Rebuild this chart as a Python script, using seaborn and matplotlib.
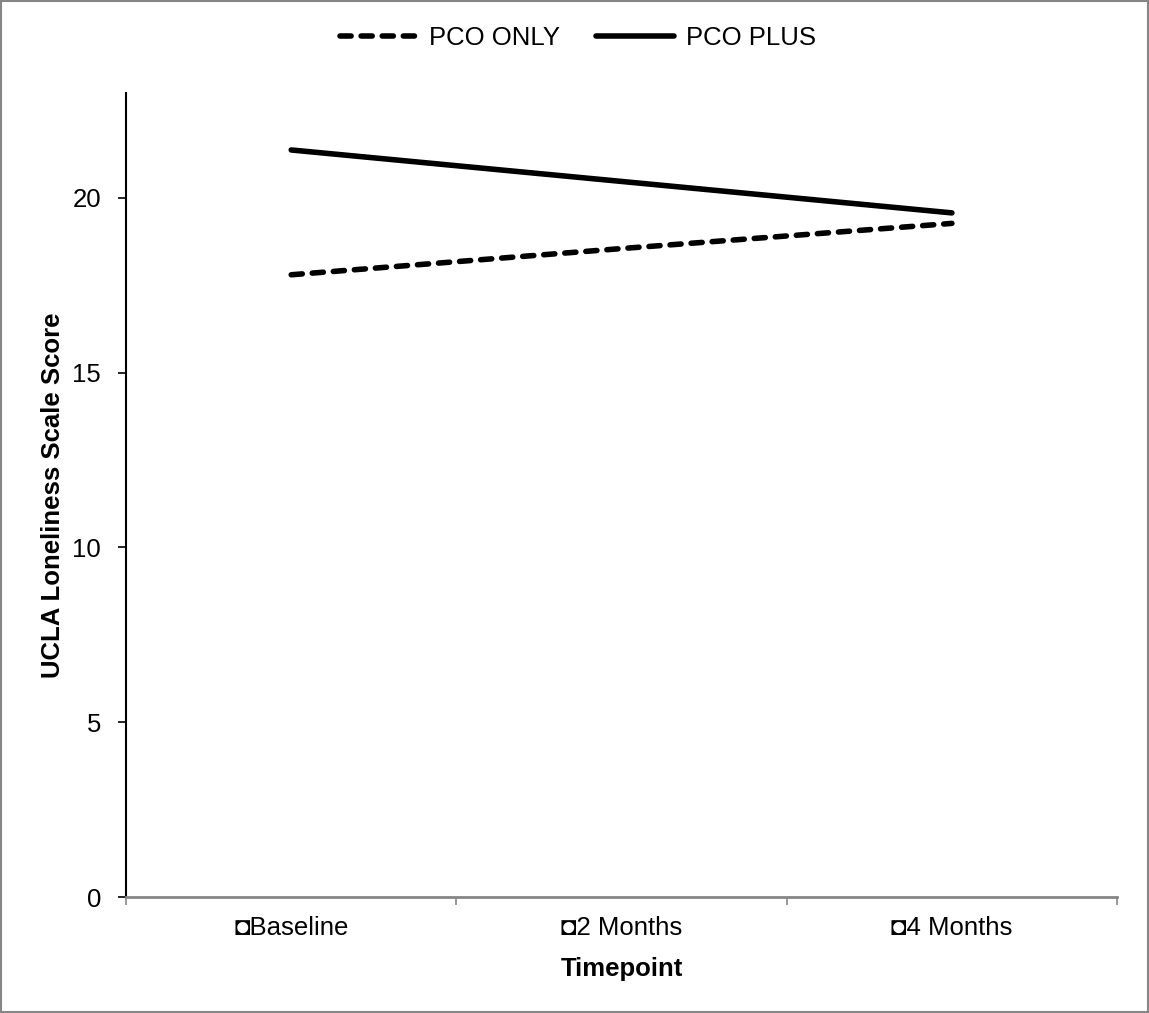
import matplotlib
matplotlib.use("Agg")
import matplotlib.pyplot as plt
from matplotlib.patches import Rectangle
import pandas as pd
import seaborn as sns

# Valores
timepoints = ["\u25d8Baseline", "\u25d82 Months", "\u25d84 Months"]
pco_only = [17.8, 18.55, 19.27]
pco_plus = [21.37, 20.47, 19.57]
groups = ["PCO ONLY", "PCO PLUS"]
y_ticks = [0, 5, 10, 15, 20]

df = pd.DataFrame({
    "Timepoint": timepoints * 2,
    "Score": pco_only + pco_plus,
    "Grupo": [groups[0]] * 3 + [groups[1]] * 3,
})

sns.set_style("white")
plt.rcParams["font.family"] = ["Liberation Sans", "DejaVu Sans"]
plt.rcParams["text.color"] = "black"
plt.rcParams["axes.labelcolor"] = "black"

FS = 18.5

fig = plt.figure(figsize=(11.49, 10.13), dpi=100)
ax = fig.add_axes([0.1097, 0.1145, 0.8625, 0.7937])

sns.lineplot(
    data=df, x="Timepoint", y="Score", hue="Grupo", style="Grupo",
    palette={groups[0]: "black", groups[1]: "black"},
    dashes={groups[0]: (2.0, 1.8), groups[1]: ""},
    linewidth=4, sort=False, ax=ax, legend=True,
)
for ln in ax.lines:
    ln.set_dash_capstyle("round")
    ln.set_solid_capstyle("round")

ax.set_xlim(-0.5, 2.5)
ax.set_ylim(0, 23)
ax.set_yticks(y_ticks)
ax.set_xticks([-0.5, 0.5, 1.5, 2.5], minor=False)
ax.set_xticklabels([])
ax.set_xticks([0, 1, 2], minor=True)
ax.set_xticklabels(timepoints, minor=True, fontsize=FS)
ax.tick_params(axis="x", which="major", length=6, width=1.2, color="#868686", direction="out", bottom=True)
ax.tick_params(axis="x", which="minor", length=0, pad=14, labelcolor="black")
ax.tick_params(axis="y", length=6, width=1.2, color="black", labelcolor="black",
               direction="out", left=True, labelsize=FS, pad=12)

for s in ["top", "right"]:
    ax.spines[s].set_visible(False)
ax.spines["left"].set_color("black")
ax.spines["left"].set_linewidth(1.5)
ax.spines["bottom"].set_color("#868686")
ax.spines["bottom"].set_linewidth(2)

ax.set_xlabel("Timepoint", fontsize=FS, fontweight="bold", labelpad=12)
ax.set_ylabel("UCLA Loneliness Scale Score", fontsize=FS, fontweight="bold", labelpad=5)

handles, labels = ax.get_legend_handles_labels()
ax.legend_.remove()
fig.legend(handles, labels, loc="center", bbox_to_anchor=(0.503, 0.9625), ncol=2,
           frameon=False, fontsize=FS, handlelength=3.0, handletextpad=0.5, columnspacing=1.4)

# Moldura cinza em volta do gráfico
fig.patches.append(Rectangle((0.001, 0.001), 0.998, 0.998, transform=fig.transFigure,
                             fill=False, edgecolor="#868686", linewidth=1.5))

plt.savefig("out.png", dpi=100, facecolor="white")
plt.close()
